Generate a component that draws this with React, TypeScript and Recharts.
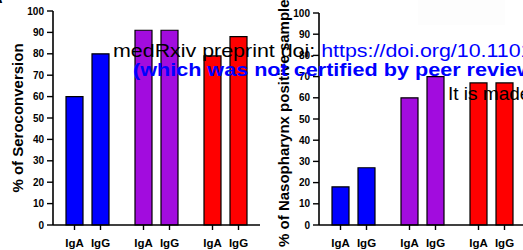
import React from 'react';
import { BarChart, Bar, XAxis, YAxis, Cell } from 'recharts';

// ---- Data ----
const groups = ['Group 1', 'Group 2', 'Group 3'];
const groupColors = ['#0000FF', '#A20CDE', '#FF0000'];
const isotypes = ['IgA', 'IgG'];
const seroconversionIgA = [60, 91, 79];
const seroconversionIgG = [80, 91, 88];
const nasopharynxIgA = [18, 60, 67];
const nasopharynxIgG = [27, 70, 67];
const yTicks = [0, 10, 20, 30, 40, 50, 60, 70, 80, 90, 100];

const seroData = groups.map((g, i) => ({ group: g, IgA: seroconversionIgA[i], IgG: seroconversionIgG[i] }));
const nasoData = groups.map((g, i) => ({ group: g, IgA: nasopharynxIgA[i], IgG: nasopharynxIgG[i] }));

const FONT = '"Liberation Sans", Arial, Helvetica, sans-serif';
const BAR_SIZE = 17;
const BAR_GAP = 9;

const IsoTick = (props: any) => {
  const { x, y } = props;
  const off = (BAR_SIZE + BAR_GAP) / 2;
  return (
    <g>
      {isotypes.map((t, k) => {
        const cx = x + (k === 0 ? -off : off);
        return (
          <g key={t}>
            <line x1={cx} x2={cx} y1={y} y2={y + 5} stroke="#000" strokeWidth={1.4} />
            <text x={cx} y={y + 22} textAnchor="middle" fontFamily={FONT} fontWeight="bold" fontSize={11.5} fill="#000">
              {t}
            </text>
          </g>
        );
      })}
    </g>
  );
};

const makeLabel = (title: string) => (p: any) => {
  const vb = p.viewBox || { x: 0, y: 0, width: 53, height: 214 };
  const cx = vb.x + 17.5;
  const cy = vb.y + vb.height / 2;
  return (
    <text
      x={cx}
      y={cy}
      transform={`rotate(-90 ${cx} ${cy})`}
      textAnchor="middle"
      dominantBaseline="central"
      fontFamily={FONT}
      fontWeight="bold"
      fontSize={15}
      fill="#000"
    >
      {title}
    </text>
  );
};

const Panel = ({ data, title, top, left, width }: any) => (
  <div style={{ position: 'absolute', left, top: 0 }}>
    <BarChart
      width={width}
      height={250}
      data={data}
      margin={{ top, right: 10, bottom: 5, left: 0 }}
      barSize={BAR_SIZE}
      barGap={BAR_GAP}
    >
      <XAxis
        dataKey="group"
        height={20}
        interval={0}
        tickLine={false}
        tickSize={0}
        tickMargin={0}
        axisLine={{ stroke: '#000', strokeWidth: 1.6 }}
        tick={<IsoTick />}
      />
      <YAxis
        width={53}
        domain={[0, 100]}
        ticks={yTicks}
        interval={0}
        tickSize={6}
        tickMargin={3}
        axisLine={{ stroke: '#000', strokeWidth: 1.6 }}
        tickLine={{ stroke: '#000', strokeWidth: 1.4 }}
        tick={{ fontFamily: FONT, fontWeight: 'bold', fontSize: 10, fill: '#000' }}
        label={makeLabel(title)}
      />
      <Bar dataKey="IgA" stroke="#000" strokeWidth={1.2} isAnimationActive={false}>
        {data.map((_: any, i: number) => (
          <Cell key={i} fill={groupColors[i]} />
        ))}
      </Bar>
      <Bar dataKey="IgG" stroke="#000" strokeWidth={1.2} isAnimationActive={false}>
        {data.map((_: any, i: number) => (
          <Cell key={i} fill={groupColors[i]} />
        ))}
      </Bar>
    </BarChart>
  </div>
);

export default function App() {
  return (
    <div
      style={{
        position: 'absolute',
        left: 0,
        top: 0,
        width: 523,
        height: 250,
        overflow: 'hidden',
        background: '#fff',
      }}
    >
      <div style={{ position: 'absolute', left: 418, top: 0, width: 87, height: 25, background: '#fdfdfd' }} />
      <Panel data={seroData} title="% of Seroconversion" top={11} left={0} width={270} />
      <Panel data={nasoData} title="% of Nasopharynx positive samples" top={13} left={266} width={270} />
      <svg
        width={523}
        height={250}
        style={{ position: 'absolute', left: 0, top: 0, pointerEvents: 'none' }}
      >
        <text x={-9} y={3} fontFamily={FONT} fontWeight="bold" fontSize={16} fill="#000">A</text>
        <text transform="translate(113,57) scale(1.19,1)" fontFamily={FONT} fontSize={18}>
          <tspan fill="#000">medRxiv preprint doi: </tspan>
          <tspan fill="#0000FF">https://doi.org/10.1101/2020</tspan>
        </text>
        <text transform="translate(133,76) scale(1.2,1)" fontFamily={FONT} fontWeight="bold" fontSize={18} fill="#0000FF">
          (which was not certified by peer review)
        </text>
        <text x={448} y={100} fontFamily={FONT} fontSize={19} fill="#000">
          It is made available
        </text>
      </svg>
    </div>
  );
}
